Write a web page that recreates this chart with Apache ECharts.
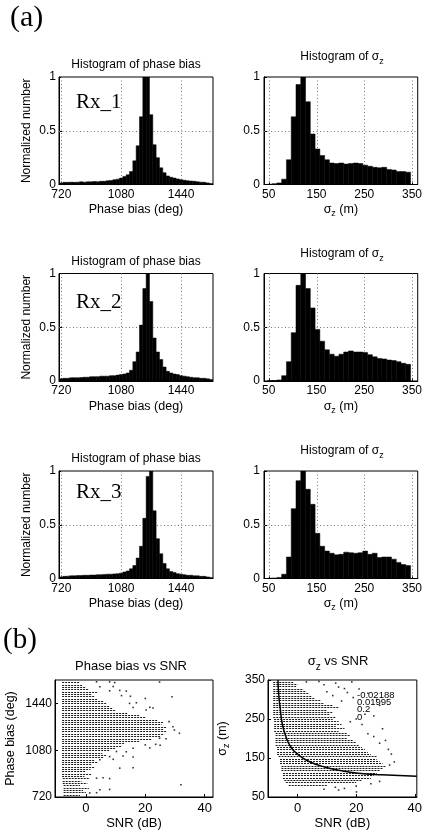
<!DOCTYPE html>
<html><head><meta charset="utf-8">
<script src="https://cdn.jsdelivr.net/npm/echarts@6/dist/echarts.min.js"></script>
<style>html,body{margin:0;padding:0;background:#fff}#c{width:425px;height:833px}</style>
</head><body><div id="c"></div>
<script>
// ---------------- data ----------------
const phaseBinCenters = [720,740,760,780,800,820,840,860,880,900,920,940,960,980,1000,1020,1040,1060,1080,1100,1120,1140,1160,1180,1200,1220,1240,1260,1280,1300,1320,1340,1360,1380,1400,1420,1440,1460,1480,1500,1520,1540,1560,1580,1600,1620];
const phaseHistRx1 = [0.015,0.02,0.02,0.022,0.02,0.022,0.025,0.022,0.025,0.025,
  0.028,0.025,0.03,0.03,0.035,0.038,0.045,0.05,0.06,0.075,
  0.09,0.12,0.22,0.36,0.63,1.0,1.0,0.65,0.37,0.25,
  0.155,0.11,0.08,0.068,0.06,0.052,0.045,0.04,0.035,0.032,
  0.03,0.025,0.022,0.02,0.015,0.01];
const phaseHistRx2 = [0.02,0.025,0.025,0.03,0.03,0.03,0.032,0.035,0.035,0.04,
  0.04,0.04,0.045,0.045,0.045,0.05,0.05,0.055,0.06,0.065,
  0.075,0.1,0.18,0.27,0.52,0.86,1.0,0.74,0.4,0.27,
  0.2,0.13,0.09,0.075,0.065,0.06,0.05,0.045,0.04,0.035,
  0.03,0.03,0.025,0.025,0.02,0.015];
const phaseHistRx3 = [0.015,0.02,0.022,0.025,0.025,0.027,0.028,0.03,0.03,0.032,
  0.032,0.035,0.035,0.038,0.04,0.04,0.043,0.045,0.05,0.06,
  0.07,0.09,0.12,0.19,0.3,0.56,0.95,1.0,0.63,0.37,
  0.23,0.14,0.09,0.065,0.055,0.045,0.04,0.035,0.03,0.03,
  0.025,0.025,0.02,0.02,0.015,0.01];
const sigmaBinCenters = [52,62,72,82,92,102,112,122,132,142,152,162,172,182,192,202,212,222,232,242,252,262,272,282,292,302,312,322,332,342];
const sigmaHistRx1 = [0.003,0.008,0.015,0.05,0.23,0.63,0.93,1.0,0.77,0.47,
  0.33,0.27,0.23,0.2,0.195,0.2,0.19,0.195,0.2,0.195,
  0.18,0.17,0.16,0.155,0.16,0.14,0.135,0.12,0.12,0.115];
const sigmaHistRx2 = [0.003,0.005,0.01,0.05,0.18,0.45,0.89,1.0,0.86,0.68,
  0.48,0.37,0.29,0.25,0.23,0.25,0.27,0.28,0.27,0.27,
  0.265,0.245,0.225,0.21,0.205,0.195,0.19,0.18,0.165,0.155];
const sigmaHistRx3 = [0.003,0.005,0.01,0.04,0.2,0.65,0.91,1.0,0.83,0.69,
  0.42,0.3,0.255,0.235,0.22,0.225,0.245,0.24,0.235,0.24,
  0.255,0.225,0.235,0.195,0.2,0.2,0.18,0.15,0.13,0.12];

const phaseTicks = [720,1080,1440];
const sigmaTicks = [50,150,250,350];
const normTicks = [0.5];
const snrTicks = [0,20,40];
const rxLabels = ['Rx_1','Rx_2','Rx_3'];

// scatter (b): quantised rows, SNR extent of the dense part of each row
const phaseRowLevels = [738,756,774,792,810,828,846,864,882,900,918,936,954,972,990,1008,1026,1044,1062,1080,1098,1116,1134,1152,1170,1188,1206,1224,1242,1260,1278,1296,1314,1332,1350,1368,1386,1404,1422,1440,1458,1476,1494,1512,1530,1548,1566,1584,1602];
const phaseRowStart = [-7.5,-7.5,-7.5,-7.5,-7.5,-7.8,-7.8,-7.8,-8,-8,-8,-8,-8,-8,-8,-8,-8,-8,-8,-8,-8,-8,-8,-8,-8,-8,-8,-8,-8,-8,-8,-8,-8,-8,-8,-8,-8,-8,-8,-8,-8,-8,-8,-8,-8,-8,-8,-8,-8];
const phaseRowEnd = [-2,0,-1,1,-2,0.5,-1.5,1,-0.5,2,
  0,1.5,3,2,4,3,6,7,5.5,8,
  10,12,13,18,22,25,26,27,26,27,
  25.5,26,24,20,18,14,10,9,8,7,
  6,4,3,2,4,1,0,-1,-2];
const phaseSparse = [[3.6,1606],[8,1606],[9.7,1600],[24.8,1604],[4.7,1568],[9.2,1570],[8,1537],[11.4,1540],[13.6,1535],[29,1491],[12,1500],[15,1495],[20,1478],[14.7,1440],[17,1445],[15.9,1409],[21.5,1410],[22.6,1405],[20.3,1389],[28,1300],[29.3,1260],[29.8,1235],[31.5,1210],[24.8,1172],[27,1168],[20,1121],[23.5,1125],[25,1118],[15.9,1095],[21.5,1098],[10.3,1070],[13.6,1068],[8,1031],[12.5,1035],[15.9,1028],[4.7,1006],[9.2,1010],[11.4,942],[15.9,945],[3.6,865],[5.8,868],[8,862],[32,814],[4.7,776],[8,778],[1.3,751],[3.6,753]];

const sigmaRowLevels = [82,88,94,100,106,112,118,124,130,136,142,148,154,160,166,172,178,184,190,196,202,208,214,220,226,232,238,244,250,256,262,268,274,280,286,292,298,304,310,316,322,328,334,340,346];
const sigmaRowStart = [-3,-4,-4.5,-5,-5,-5,-5.5,-5.5,-5.5,-6,-6,-6,-6.5,-7,-7,-7,-7,-7.5,-7.5,-7.5,-7.5,-7.5,-7.5,-8,-8,-8,-8,-8,-8,-8.3,-8.3,-8.3,-8.3,-8.3,-8.3,-8.3,-8.3,-8.3,-8.3,-8.3,-8.3,-8.3,-8.3,-8.3,-8.3];
const sigmaRowEnd = [10,20,22,25,26,27,28,29,30,29,28,27,27,25,24,23,22,21,20,19,17,18,17,14,16,13,15,14,12,13,11,12,10,14,12,9,8,6,5,4,3,2,-0.5,0,-1.5];
const sigmaSparse = [[3,345],[7.3,346],[13,342],[18.5,345],[9,338],[14,332],[16,328],[21,327],[10,320],[17,318],[24,316],[12,310],[19,305],[27,300],[15,296],[28,285],[23,262],[26,258],[20,250],[18,243],[22,236],[29,225],[24,212],[26,205],[30,195],[28,188],[31,172],[32,160],[31.4,132],[33,140],[12.9,75],[16,72],[20,78],[14,68],[20.1,63],[9,70],[25,84],[28,90]];
const fitCurve = [[-6.7,350],[-6.4,309],[-5.9,275],[-5.3,241],[-4.1,207],[-2.2,177],[0,160],[3.9,141],[9.5,126.5],[15.1,117],[20.7,111],[28.6,107],[40.7,103]];
const fitParams = ['-0.02188','0.01995','0.2','0'];

// ---------------- layout ----------------
const F = 'Liberation Sans, Arial, sans-serif';
const SERIF = 'Liberation Serif, Times New Roman, serif';
const histTops = [77, 273.5, 471];
const histH = 107.5;
const phaseMin = 706, phaseMax = 1632, sigmaMin = 40, sigmaMax = 362;
const grids = [];
histTops.forEach(t => {
  grids.push({left:59, top:t, width:154, height:histH});
  grids.push({left:264, top:t, width:155, height:histH});
});
grids.push({left:55, top:680, width:158, height:117});
grids.push({left:268, top:680, width:151, height:117});
grids.forEach(g => Object.assign(g, {show:true, borderColor:'#000', borderWidth:1, backgroundColor:'transparent'}));

const sigRich = (fs) => ({
  a:{fontFamily:F, fontSize:fs, color:'#000', verticalAlign:'top', lineHeight:fs+2},
  s:{fontFamily:F, fontSize:Math.round(fs*0.75), color:'#000', verticalAlign:'top', lineHeight:fs-2, padding:[Math.round(fs*0.5),0,0,0]}
});

function axis(o) {
  return {
    type:'value', gridIndex:o.g, min:o.min, max:o.max, interval:o.interval,
    name:o.name || '', nameLocation:'middle', nameGap:o.nameGap || 20, nameRotate:o.nameRotate,
    nameTextStyle:Object.assign({color:'#000', fontFamily:F, fontSize:o.nameSize || 12}, o.rich ? {rich:o.rich} : {}),
    axisLine:{show:true, onZero:false, lineStyle:{color:'#000', width:1}},
    axisTick:Object.assign({show:true, inside:true, length:3, lineStyle:{color:'#000'}}, o.custom ? {customValues:o.custom} : {}),
    axisLabel:Object.assign({show:true, color:'#000', fontFamily:F, fontSize:o.labelSize || 12, margin:o.margin || 4,
      formatter:(v) => String(v)}, o.custom ? {customValues:o.custom} : {}),
    splitLine:{show:false}
  };
}

const xAxes = [], yAxes = [];
for (let r = 0; r < 3; r++) {
  xAxes.push(axis({g:2*r, min:phaseMin, max:phaseMax, custom:phaseTicks, name:'Phase bias (deg)', nameGap:19, nameSize:12.5}));
  yAxes.push(axis({g:2*r, min:0, max:1, interval:0.5, name:'Normalized number', nameGap:26, nameRotate:90, margin:3}));
  xAxes.push(axis({g:2*r+1, min:sigmaMin, max:sigmaMax, custom:sigmaTicks, name:'{a|σ}{s|z}{a| (m)}', rich:sigRich(12.5), nameGap:19}));
  yAxes.push(axis({g:2*r+1, min:0, max:1, interval:0.5, margin:4}));
}
xAxes.push(axis({g:6, min:-10.4, max:42.8, custom:snrTicks, name:'SNR (dB)', nameGap:20, nameSize:13, labelSize:13, margin:5}));
yAxes.push(axis({g:6, min:720, max:1620, custom:phaseTicks, name:'Phase bias (deg)', nameGap:38, nameRotate:90, nameSize:12.5, margin:3}));
xAxes.push(axis({g:7, min:-10.1, max:40.7, custom:snrTicks, name:'SNR (dB)', nameGap:20, nameSize:13, labelSize:13, margin:5}));
yAxes.push(axis({g:7, min:50, max:350, custom:sigmaTicks, name:'{a|σ}{s|z}{a| (m)}', rich:sigRich(12.5), nameGap:37, nameRotate:90, margin:3}));

// ---------------- series ----------------
const snap = (v) => Math.round(v) + 0.5;
// dotted MATLAB-style grid lines at the tick values: items [x, y, kind]
function gridSeries(gi, xMin, xTicks, yTicks) {
  const data = xTicks.map(v => [v, 0, 0]).concat(yTicks.map(v => [xMin, v, 1]));
  return {
    type:'custom', xAxisIndex:gi, yAxisIndex:gi, z:1, silent:true,
    data, encode:{x:0, y:1},
    renderItem:(p, api) => {
      const cs = p.coordSys;
      const pt = api.coord([api.value(0), api.value(1)]);
      const shape = api.value(2) === 0
        ? {x1:snap(pt[0]), y1:cs.y, x2:snap(pt[0]), y2:cs.y + cs.height}
        : {x1:cs.x, y1:snap(pt[1]), x2:cs.x + cs.width, y2:snap(pt[1])};
      return {type:'line', shape, style:{stroke:'#777', lineWidth:1, lineDash:[1,2.5]}};
    }
  };
}
function histSeries(gi, centers, heights, halfW) {
  return {
    type:'custom', xAxisIndex:gi, yAxisIndex:gi, clip:true, z:3,
    data:centers.map((c, i) => [c, heights[i]]),
    encode:{x:0, y:1},
    renderItem:(p, api) => {
      const c = api.value(0), h = api.value(1);
      const a = api.coord([c - halfW, h]), b = api.coord([c + halfW, 0]);
      return {type:'rect', shape:{x:a[0], y:a[1], width:b[0]-a[0], height:b[1]-a[1]},
              style:{fill:'#000', stroke:'#000', lineWidth:0.5}};
    }
  };
}
function rowSeries(gi, levels, starts, ends) {
  return {
    type:'custom', xAxisIndex:gi, yAxisIndex:gi, clip:true, z:2,
    data:levels.map((v, i) => [starts[i], ends[i], v]),
    encode:{x:[0,1], y:2},
    renderItem:(p, api) => {
      const a = api.coord([api.value(0), api.value(2)]);
      const b = api.coord([api.value(1), api.value(2)]);
      const y = snap(a[1]);
      return {type:'line', shape:{x1:a[0], y1:y, x2:b[0], y2:y},
              style:{stroke:'#1a1a1a', lineWidth:1, lineDash:[2,1]}};
    }
  };
}
const phaseHists = [phaseHistRx1, phaseHistRx2, phaseHistRx3];
const sigmaHists = [sigmaHistRx1, sigmaHistRx2, sigmaHistRx3];
const series = [];
for (let r = 0; r < 3; r++) {
  series.push(gridSeries(2*r, phaseMin, phaseTicks, normTicks));
  series.push(histSeries(2*r, phaseBinCenters, phaseHists[r], 10));
  series.push(gridSeries(2*r+1, sigmaMin, sigmaTicks, normTicks));
  series.push(histSeries(2*r+1, sigmaBinCenters, sigmaHists[r], 5));
}
series.push(rowSeries(6, phaseRowLevels, phaseRowStart, phaseRowEnd));
series.push({type:'scatter', xAxisIndex:6, yAxisIndex:6, symbol:'rect', symbolSize:1.6, itemStyle:{color:'#000'}, data:phaseSparse, z:3});
series.push(rowSeries(7, sigmaRowLevels, sigmaRowStart, sigmaRowEnd));
series.push({type:'scatter', xAxisIndex:7, yAxisIndex:7, symbol:'rect', symbolSize:1.6, itemStyle:{color:'#000'}, data:sigmaSparse, z:3});
series.push({type:'line', xAxisIndex:7, yAxisIndex:7, data:fitCurve, smooth:true, showSymbol:false, clip:true, z:4,
             lineStyle:{color:'#000', width:1.5}});

// ---------------- texts ----------------
const graphic = [];
const txt = (x, y, text, o) => graphic.push({type:'text', x, y, z:10, style:Object.assign({text, fill:'#000', font:'12px ' + F, align:'center', verticalAlign:'top'}, o || {})});
txt(10, 3, '(a)', {font:'30px ' + SERIF, align:'left'});
txt(3, 626, '(b)', {font:'29px ' + SERIF, align:'left'});
const phaseTitleTops = [59, 255.5, 453];
const sigmaTitleTops = [51, 248, 445];
const rxMid = [102, 302, 492.5];
for (let r = 0; r < 3; r++) {
  txt(136, phaseTitleTops[r], 'Histogram of phase bias');
  graphic.push({type:'text', x:342, y:sigmaTitleTops[r], z:10, style:{text:'{a|Histogram of σ}{s|z}', rich:sigRich(12), align:'center', verticalAlign:'top'}});
  txt(76, rxMid[r], rxLabels[r], {font:'21px ' + SERIF, align:'left', verticalAlign:'middle'});
}
txt(131, 660, 'Phase bias vs SNR', {font:'13px ' + F});
graphic.push({type:'text', x:338, y:655, z:10, style:{text:'{a|σ}{s|z}{a| vs SNR}', rich:sigRich(13), align:'center', verticalAlign:'top'}});
const fitY = [695, 702.3, 709.6, 716.9];
fitParams.forEach((t, i) => txt(357, fitY[i], t, {font:'9.5px ' + F, align:'left', verticalAlign:'middle'}));

const chart = echarts.init(document.getElementById('c'), null, {renderer:'canvas'});
chart.setOption({animation:false, backgroundColor:'#fff', grid:grids, xAxis:xAxes, yAxis:yAxes, series, graphic});
</script></body></html>
